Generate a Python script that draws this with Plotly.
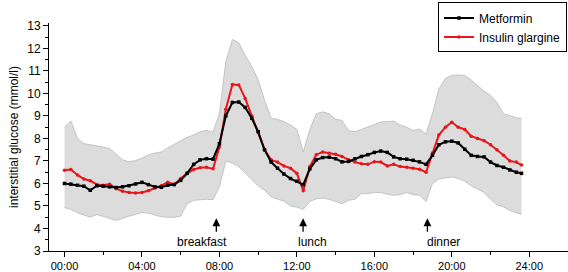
import plotly.graph_objects as go

# time of day in hours (20-minute steps)
hours = [0.00, 0.33, 0.67, 1.00, 1.33, 1.67, 2.00, 2.33, 2.67, 3.00, 3.33, 3.67,
         4.00, 4.33, 4.67, 5.00, 5.33, 5.67, 6.00, 6.33, 6.67, 7.00, 7.33, 7.67,
         8.00, 8.33, 8.67, 9.00, 9.33, 9.67, 10.00, 10.33, 10.67, 11.00, 11.33, 11.67,
         12.00, 12.33, 12.67, 13.00, 13.33, 13.67, 14.00, 14.33, 14.67, 15.00, 15.33, 15.67,
         16.00, 16.33, 16.67, 17.00, 17.33, 17.67, 18.00, 18.33, 18.67, 19.00, 19.33, 19.67,
         20.00, 20.33, 20.67, 21.00, 21.33, 21.67, 22.00, 22.33, 22.67, 23.00, 23.33, 23.60]

metformin = [6.00, 5.97, 5.92, 5.88, 5.70, 5.90, 5.88, 5.85, 5.82, 5.85, 5.90, 5.98,
             6.05, 5.95, 5.85, 5.83, 5.92, 5.95, 6.14, 6.45, 6.85, 7.05, 7.10, 7.08,
             7.77, 9.00, 9.60, 9.62, 9.38, 8.90, 8.30, 7.50, 6.95, 6.68, 6.42, 6.22,
             6.10, 5.95, 6.65, 7.05, 7.15, 7.17, 7.10, 6.96, 6.98, 7.10, 7.20, 7.28,
             7.38, 7.44, 7.38, 7.18, 7.10, 7.08, 7.03, 6.96, 6.85, 7.25, 7.72, 7.85,
             7.88, 7.80, 7.52, 7.25, 7.20, 7.18, 6.95, 6.80, 6.72, 6.60, 6.50, 6.45]

glargine = [6.59, 6.62, 6.38, 6.20, 6.12, 5.96, 5.92, 5.97, 5.77, 5.66, 5.60, 5.58,
            5.60, 5.68, 5.80, 5.90, 6.05, 5.97, 6.22, 6.45, 6.62, 6.70, 6.72, 6.65,
            7.62, 9.30, 10.40, 10.38, 9.78, 9.00, 8.30, 7.50, 7.05, 6.95, 6.78, 6.68,
            6.45, 5.68, 6.75, 7.28, 7.40, 7.34, 7.30, 7.20, 7.05, 6.95, 6.88, 6.85,
            6.97, 6.95, 6.78, 6.85, 6.75, 6.72, 6.68, 6.63, 6.50, 7.35, 8.15, 8.50,
            8.72, 8.50, 8.40, 8.10, 8.00, 7.90, 7.72, 7.50, 7.25, 7.00, 6.95, 6.82]

sd_upper = [8.50, 8.78, 8.00, 7.77, 7.72, 7.68, 7.62, 7.55, 7.30, 7.05, 6.96, 7.02,
            7.12, 7.27, 7.35, 7.40, 7.58, 7.75, 7.92, 8.05, 8.15, 8.30, 8.36, 8.28,
            9.10, 11.40, 12.40, 12.25, 11.70, 11.20, 10.60, 9.70, 8.90, 8.85, 8.75, 8.60,
            8.40, 7.40, 8.40, 9.10, 9.18, 9.10, 8.85, 8.80, 8.35, 8.30, 8.40, 8.50,
            8.62, 8.73, 8.75, 8.77, 8.60, 8.50, 8.36, 8.42, 8.20, 9.10, 10.20, 10.66,
            10.80, 10.82, 10.80, 10.60, 10.35, 10.10, 9.92, 9.60, 9.10, 9.00, 8.92, 8.88]

sd_lower = [4.93, 4.85, 4.70, 4.60, 4.50, 4.62, 4.52, 4.45, 4.36, 4.47, 4.55, 4.62,
            4.72, 4.68, 4.60, 4.52, 4.50, 4.50, 4.55, 5.10, 5.25, 5.28, 5.30, 5.28,
            5.85, 7.00, 6.90, 6.75, 6.48, 6.20, 5.90, 5.70, 5.40, 5.30, 5.22, 5.00,
            4.95, 4.85, 5.20, 5.32, 5.35, 5.30, 5.20, 5.10, 5.25, 5.30, 5.55, 5.55,
            5.60, 5.60, 5.52, 5.48, 5.50, 5.60, 5.50, 5.48, 5.20, 6.00, 6.20, 6.26,
            6.29, 6.22, 6.10, 5.90, 5.75, 5.60, 5.30, 5.05, 4.96, 4.80, 4.70, 4.63]

tick_hours = [0, 4, 8, 12, 16, 20, 24]
tick_labels = ["00:00", "04:00", "08:00", "12:00", "16:00", "20:00", "24:00"]

meal_labels = ["breakfast", "lunch", "dinner"]
meal_hours = [7.84, 12.32, 18.74]
meal_text_shift = [-14, 9, 16]

FONT = "Liberation Sans, Arial, sans-serif"

fig = go.Figure()

# grey SD band
fig.add_trace(go.Scatter(x=hours, y=sd_lower, mode="lines",
                         line=dict(color="#c4c4c4", width=1),
                         showlegend=False, hoverinfo="skip"))
fig.add_trace(go.Scatter(x=hours, y=sd_upper, mode="lines",
                         line=dict(color="#c4c4c4", width=1),
                         fill="tonexty", fillcolor="#dcdcdc",
                         showlegend=False, hoverinfo="skip"))

fig.add_trace(go.Scatter(x=hours, y=glargine, mode="lines+markers", name="Insulin glargine",
                         line=dict(color="#e8161b", width=2),
                         marker=dict(symbol="circle", size=3.5, color="#e8161b")))
fig.add_trace(go.Scatter(x=hours, y=metformin, mode="lines+markers", name="Metformin",
                         line=dict(color="#000000", width=2),
                         marker=dict(symbol="square", size=3.5, color="#000000")))

annotations = []
for lab, h, sh in zip(meal_labels, meal_hours, meal_text_shift):
    annotations.append(dict(x=h, y=4.45, xref="x", yref="y", text="",
                            showarrow=True, arrowhead=2, arrowsize=1.2, arrowwidth=1.3,
                            arrowcolor="#000000", ax=0, ay=15))
    annotations.append(dict(x=h, y=3.38, xref="x", yref="y", text=lab,
                            showarrow=False, xshift=sh,
                            font=dict(family=FONT, size=12, color="#000000")))

fig.update_layout(
    width=568, height=272,
    margin=dict(l=49, r=0, t=23, b=21, autoexpand=False),
    paper_bgcolor="white", plot_bgcolor="white",
    font=dict(family=FONT, size=12, color="#000000"),
    legend=dict(x=0.998, y=1.09, xanchor="right", yanchor="top",
                bordercolor="#000000", borderwidth=1, bgcolor="white",
                font=dict(family=FONT, size=12),
                traceorder="reversed", itemwidth=30,
                tracegroupgap=0),
    annotations=annotations,
    showlegend=True,
)

fig.update_xaxes(range=[-0.8, 26.0], tickvals=tick_hours, ticktext=tick_labels,
                 ticks="outside", ticklen=5, tickcolor="#000", tickwidth=1,
                 showline=True, linecolor="#000", linewidth=1,
                 showgrid=False, zeroline=False,
                 tickfont=dict(family=FONT, size=11),
                 minor=dict(dtick=2, tick0=0, ticks="outside", ticklen=3,
                            tickcolor="#000", showgrid=False))
fig.update_yaxes(range=[3, 13.13], dtick=1, tick0=3,
                 ticks="outside", ticklen=5, tickcolor="#000", tickwidth=1,
                 showline=True, linecolor="#000", linewidth=1,
                 showgrid=False, zeroline=False,
                 tickfont=dict(family=FONT, size=12),
                 title=dict(text="interstitial glucose (mmol/l)",
                            font=dict(family=FONT, size=12), standoff=6),
                 minor=dict(dtick=0.5, ticks="outside", ticklen=3,
                            tickcolor="#000", showgrid=False))

fig.write_html("out.html", config={"displayModeBar": False},
               post_script="document.body.style.margin='0px';document.body.style.padding='0px';")
